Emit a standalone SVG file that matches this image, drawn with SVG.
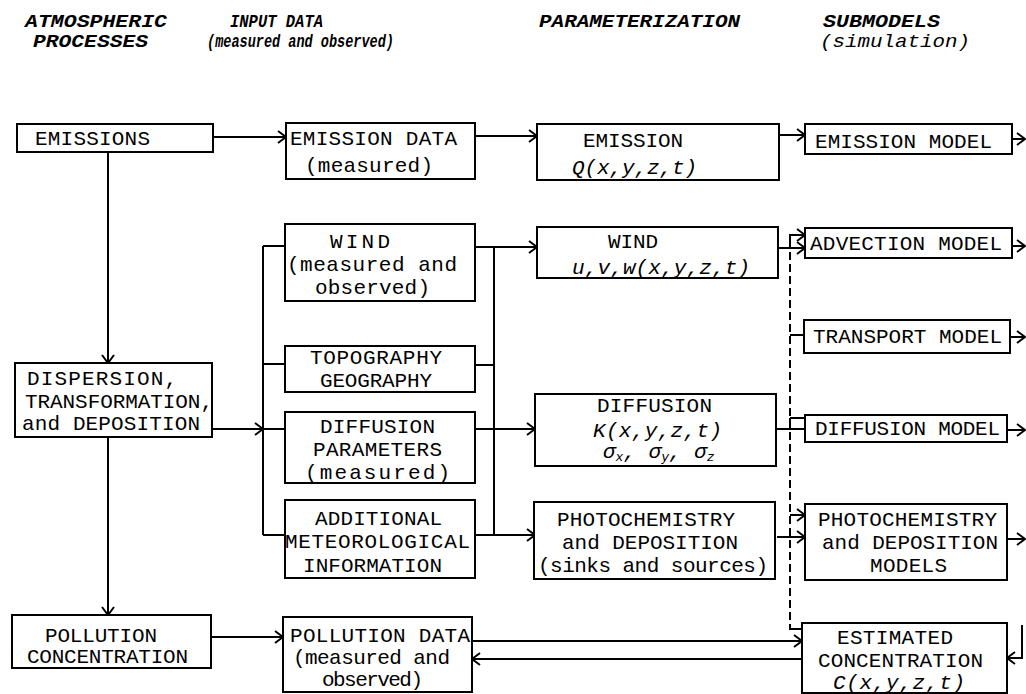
<svg xmlns="http://www.w3.org/2000/svg" width="1026" height="694" viewBox="0 0 1026 694">
<style>
.box{fill:#fff;stroke:#000;stroke-width:2}
.ln{fill:none;stroke:#000;stroke-width:2}
.dash{fill:none;stroke:#000;stroke-width:2;stroke-dasharray:8 4}
text{font-family:"Liberation Mono","DejaVu Sans Mono",monospace;font-size:21px;fill:#000}
.h{font-weight:bold;font-style:italic;font-size:18px}
.hi{font-style:italic;font-size:18px}
.i{font-style:italic}
</style>
<defs>
<marker id="ar" markerUnits="userSpaceOnUse" markerWidth="12" markerHeight="14" refX="10" refY="7" orient="auto">
<path d="M2,1 L10,7 L2,13" fill="none" stroke="#000" stroke-width="2"/>
</marker>
</defs>
<rect width="1026" height="694" fill="#fff"/>
<g id="headers">
<text class="h" x="25" y="27" textLength="142" lengthAdjust="spacingAndGlyphs">ATMOSPHERIC</text>
<text class="h" x="33" y="47" textLength="115" lengthAdjust="spacingAndGlyphs">PROCESSES</text>
<text class="h" x="230" y="27" textLength="93" lengthAdjust="spacingAndGlyphs">INPUT DATA</text>
<text class="h" x="207" y="47" textLength="187" lengthAdjust="spacingAndGlyphs">(measured and observed)</text>
<text class="h" x="539" y="27" textLength="201" lengthAdjust="spacingAndGlyphs">PARAMETERIZATION</text>
<text class="h" x="823" y="27" textLength="117" lengthAdjust="spacingAndGlyphs">SUBMODELS</text>
<text class="hi" x="820" y="47" textLength="150" lengthAdjust="spacingAndGlyphs">(simulation)</text>
</g>
<g id="connectors">
<line class="ln" x1="108" y1="152" x2="108" y2="363" marker-end="url(#ar)"/>
<line class="ln" x1="108" y1="437" x2="108" y2="615" marker-end="url(#ar)"/>
<line class="ln" x1="213" y1="137" x2="286" y2="137" marker-end="url(#ar)"/>
<line class="ln" x1="212" y1="429" x2="263" y2="429" marker-end="url(#ar)"/>
<line class="ln" x1="211" y1="637" x2="283" y2="637" marker-end="url(#ar)"/>
<line class="ln" x1="263" y1="246" x2="263" y2="535"/>
<line class="ln" x1="263" y1="246" x2="285" y2="246"/>
<line class="ln" x1="263" y1="364" x2="285" y2="364"/>
<line class="ln" x1="263" y1="429" x2="285" y2="429"/>
<line class="ln" x1="263" y1="535" x2="285" y2="535"/>
<line class="ln" x1="494" y1="246" x2="494" y2="535"/>
<line class="ln" x1="475" y1="365" x2="494" y2="365"/>
<line class="ln" x1="475" y1="136" x2="537" y2="136" marker-end="url(#ar)"/>
<line class="ln" x1="475" y1="247" x2="537" y2="247" marker-end="url(#ar)"/>
<line class="ln" x1="475" y1="429" x2="535" y2="429" marker-end="url(#ar)"/>
<line class="ln" x1="475" y1="535" x2="535" y2="535" marker-end="url(#ar)"/>
<line class="ln" x1="472" y1="641" x2="802" y2="641" marker-end="url(#ar)"/>
<line class="ln" x1="802" y1="659" x2="472" y2="659" marker-end="url(#ar)"/>
<line class="ln" x1="779" y1="135" x2="805" y2="135" marker-end="url(#ar)"/>
<line class="ln" x1="778" y1="248" x2="805" y2="248" marker-end="url(#ar)"/>
<polyline class="ln" points="790,249 790,235 805,235" marker-end="url(#ar)"/>
<line class="dash" x1="790" y1="252" x2="790" y2="629"/>
<line class="ln" x1="790" y1="335" x2="804" y2="335"/>
<line class="ln" x1="790" y1="418" x2="805" y2="418"/>
<line class="ln" x1="790" y1="418" x2="790" y2="429"/>
<line class="ln" x1="776" y1="429" x2="805" y2="429"/>
<line class="ln" x1="790" y1="515" x2="805" y2="515" marker-end="url(#ar)"/>
<line class="ln" x1="777" y1="537" x2="805" y2="537" marker-end="url(#ar)"/>
<polyline class="ln" points="790,628 790,629 802,629"/>
<line class="ln" x1="1012" y1="139" x2="1025" y2="139" marker-end="url(#ar)"/>
<line class="ln" x1="1012" y1="246" x2="1025" y2="246" marker-end="url(#ar)"/>
<line class="ln" x1="1010" y1="337" x2="1025" y2="337" marker-end="url(#ar)"/>
<line class="ln" x1="1007" y1="430" x2="1025" y2="430" marker-end="url(#ar)"/>
<line class="ln" x1="1007" y1="539" x2="1025" y2="539" marker-end="url(#ar)"/>
<polyline class="ln" points="1022,625 1022,658 1007,658" marker-end="url(#ar)"/>
</g>
<g id="n-emissions">
<rect class="box" x="17" y="124" width="196" height="28"/>
<text x="35" y="145" textLength="115">EMISSIONS</text>
</g>
<g id="n-dispersion">
<rect class="box" x="15" y="363" width="197" height="74"/>
<text x="27" y="385" textLength="150">DISPERSION,</text>
<text x="25" y="408" textLength="188">TRANSFORMATION,</text>
<text x="22" y="430" textLength="178">and DEPOSITION</text>
</g>
<g id="n-pollution-conc">
<rect class="box" x="12" y="615" width="199" height="53"/>
<text x="45" y="642" textLength="112">POLLUTION</text>
<text x="27" y="663" textLength="161">CONCENTRATION</text>
</g>
<g id="n-emission-data">
<rect class="box" x="286" y="123" width="189" height="56"/>
<text x="290" y="145" textLength="167">EMISSION DATA</text>
<text x="305" y="172" textLength="128">(measured)</text>
</g>
<g id="n-wind-data">
<rect class="box" x="285" y="224" width="190" height="77"/>
<text x="330" y="248" textLength="60">WIND</text>
<text x="287" y="271" textLength="170">(measured and</text>
<text x="315" y="294" textLength="115">observed)</text>
</g>
<g id="n-topography">
<rect class="box" x="285" y="346" width="190" height="46"/>
<text x="310" y="364" textLength="132">TOPOGRAPHY</text>
<text x="320" y="387" textLength="112">GEOGRAPHY</text>
</g>
<g id="n-diffusion-params">
<rect class="box" x="285" y="412" width="190" height="71"/>
<text x="320" y="433" textLength="115">DIFFUSION</text>
<text x="313" y="456" textLength="129">PARAMETERS</text>
<text x="305" y="479" textLength="145">(measured)</text>
</g>
<g id="n-additional">
<rect class="box" x="285" y="500" width="190" height="78"/>
<text x="315" y="525" textLength="127">ADDITIONAL</text>
<text x="285" y="548" textLength="185">METEOROLOGICAL</text>
<text x="303" y="572" textLength="139">INFORMATION</text>
</g>
<g id="n-pollution-data">
<rect class="box" x="283" y="617" width="189" height="75"/>
<text x="290" y="642" textLength="180">POLLUTION DATA</text>
<text x="293" y="664" textLength="157">(measured and</text>
<text x="322" y="686" textLength="101">observed)</text>
</g>
<g id="n-emission-param">
<rect class="box" x="537" y="124" width="242" height="56"/>
<text x="583" y="147" textLength="100">EMISSION</text>
<text class="i" x="572" y="174" textLength="125">Q(x,y,z,t)</text>
</g>
<g id="n-wind-param">
<rect class="box" x="537" y="227" width="241" height="51"/>
<text x="608" y="248" textLength="50">WIND</text>
<text class="i" x="572" y="274" textLength="178">u,v,w(x,y,z,t)</text>
</g>
<g id="n-diffusion-param">
<rect class="box" x="535" y="394" width="241" height="72"/>
<text x="597" y="412" textLength="115">DIFFUSION</text>
<text class="i" x="593" y="437" textLength="129">K(x,y,z,t)</text>
<text class="i" x="603" y="458" font-size="19">σ<tspan font-size="13" dy="3">x</tspan><tspan dy="-3">, σ</tspan><tspan font-size="13" dy="3">y</tspan><tspan dy="-3">, σ</tspan><tspan font-size="13" dy="3">z</tspan></text>
</g>
<g id="n-photochem-param">
<rect class="box" x="534" y="502" width="241" height="77"/>
<text x="557" y="526" textLength="178">PHOTOCHEMISTRY</text>
<text x="562" y="549" textLength="176">and DEPOSITION</text>
<text x="538" y="572" textLength="230">(sinks and sources)</text>
</g>
<g id="n-emission-model">
<rect class="box" x="805" y="124" width="207" height="30"/>
<text x="815" y="148" textLength="177">EMISSION MODEL</text>
</g>
<g id="n-advection-model">
<rect class="box" x="805" y="228" width="207" height="30"/>
<text x="810" y="250" textLength="192">ADVECTION MODEL</text>
</g>
<g id="n-transport-model">
<rect class="box" x="804" y="320" width="206" height="33"/>
<text x="813" y="343" textLength="189">TRANSPORT MODEL</text>
</g>
<g id="n-diffusion-model">
<rect class="box" x="805" y="415" width="202" height="27"/>
<text x="815" y="435" textLength="185">DIFFUSION MODEL</text>
</g>
<g id="n-photochem-model">
<rect class="box" x="805" y="504" width="202" height="76"/>
<text x="818" y="526" textLength="179">PHOTOCHEMISTRY</text>
<text x="822" y="549" textLength="176">and DEPOSITION</text>
<text x="870" y="572" textLength="77">MODELS</text>
</g>
<g id="n-estimated">
<rect class="box" x="802" y="623" width="205" height="70"/>
<text x="837" y="644" textLength="116">ESTIMATED</text>
<text x="818" y="667" textLength="165">CONCENTRATION</text>
<text class="i" x="833" y="689" textLength="132">C(x,y,z,t)</text>
</g>
</svg>
